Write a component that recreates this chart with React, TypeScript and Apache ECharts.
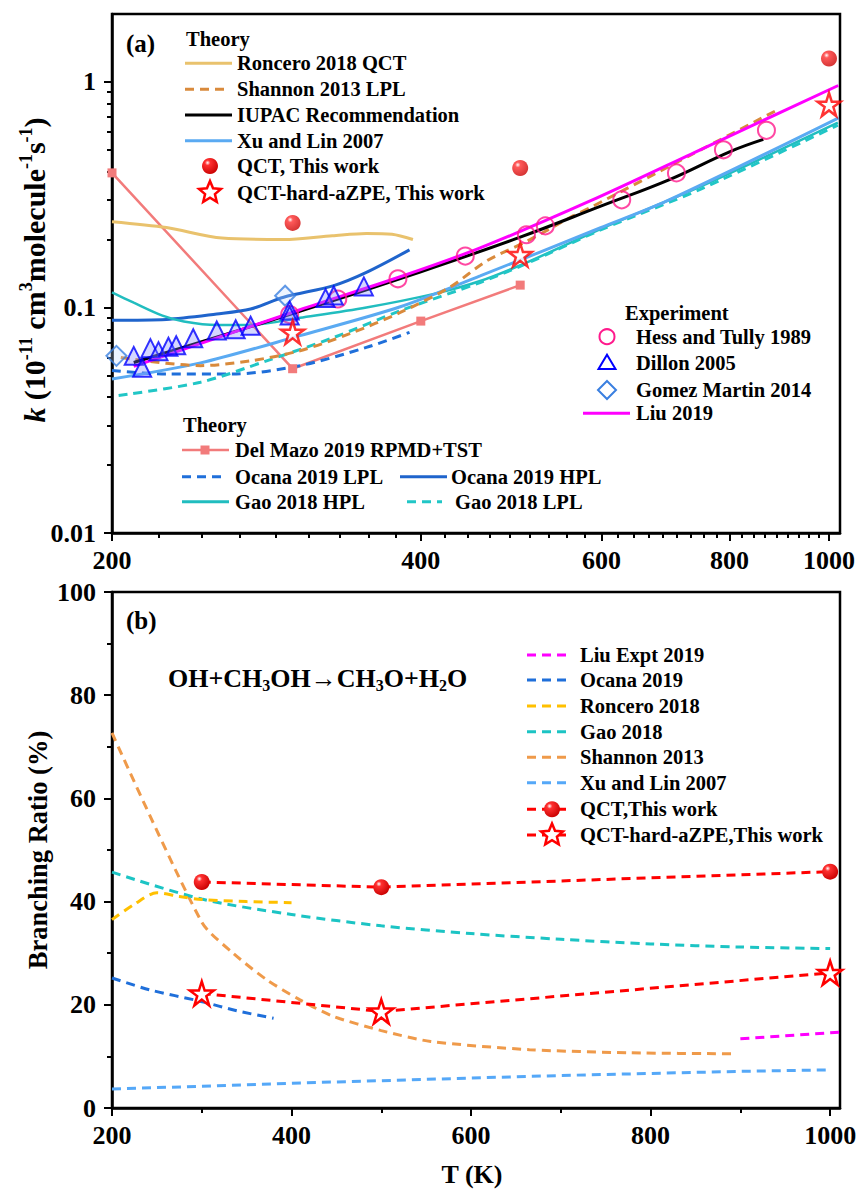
import React, { useEffect, useRef } from "react";
import * as echarts from "echarts";

const FONT = '"Liberation Serif", "Times New Roman", Times, serif';

// ---------------- Panel (a): [T (K), k (10^-11 cm3 molecule-1 s-1)] ----------------
const roncero2018QCT = [[200, 0.24], [226, 0.226], [256, 0.203], [294, 0.2], [328, 0.208], [354, 0.213], [375, 0.211], [393, 0.2]];
const shannon2013LPL = [[204, 0.06], [244, 0.0552], [273, 0.058], [305, 0.0643], [341, 0.0765], [382, 0.095], [427, 0.123], [464, 0.161], [508, 0.197], [563, 0.2545], [585, 0.277], [732, 0.472], [892, 0.754]];
const iupacRecommendation = [[210, 0.057], [300, 0.094], [400, 0.144], [500, 0.205], [600, 0.282], [700, 0.37], [800, 0.49], [863, 0.556]];
const xuLin2007 = [[200, 0.0482], [244, 0.0568], [305, 0.075], [382, 0.1007], [457, 0.138], [598, 0.225], [695, 0.2965], [1022, 0.693]];
const delMazo2019 = [[200, 0.395], [300, 0.0535], [400, 0.087], [500, 0.1256]];
const ocana2019LPL = [[200, 0.0525], [226, 0.0507], [262, 0.0507], [305, 0.0552], [354, 0.0665], [390, 0.0775]];
const ocana2019HPL = [[200, 0.0878], [226, 0.0885], [253, 0.0935], [273, 0.0984], [294, 0.111], [329, 0.125], [354, 0.143], [390, 0.18]];
const gao2018HPL = [[200, 0.1165], [210, 0.105], [224, 0.092], [235, 0.0867], [253, 0.0836], [273, 0.0836], [305, 0.09], [354, 0.1], [411, 0.1146], [457, 0.131], [507, 0.158], [598, 0.222], [749, 0.343], [1020, 0.66]];
const gao2018LPL = [[203, 0.0407], [244, 0.0466], [283, 0.058], [329, 0.0736], [382, 0.0967], [457, 0.129], [508, 0.157], [598, 0.22], [749, 0.334], [1020, 0.643]];
const liu2019 = [[210, 0.0548], [305, 0.0977], [382, 0.1368], [457, 0.1836], [585, 0.2965], [749, 0.5], [1021, 0.964]];
const qctThisWork = [[300, 0.237], [500, 0.415], [1000, 1.27]];
const qctHardAZPE = [[300, 0.0775], [500, 0.171], [1000, 0.794]];
const hessTully1989 = [[298, 0.093], [332, 0.109], [380, 0.134], [442, 0.169], [507, 0.21], [529, 0.23], [628, 0.3], [710, 0.395], [789, 0.5], [869, 0.61]];
const dillon2005 = [[210, 0.061], [214, 0.054], [218, 0.066], [222, 0.064], [227, 0.067], [231, 0.068], [240, 0.073], [253, 0.079], [264, 0.08], [273, 0.083], [298, 0.097], [298, 0.092], [323, 0.11], [329, 0.113], [352, 0.124]];
const gomezMartin2014 = [[202, 0.061], [295, 0.1127]];

const xTicksA = [200, 400, 600, 800, 1000];
const yTicksA = [0.01, 0.1, 1];
const yTickLabelsA = ["0.01", "0.1", "1"];

// ---------------- Panel (b): [T (K), branching ratio (%)] ----------------
const liuExpt2019BR = [[900, 13.4], [1010, 14.7]];
const ocana2019BR = [[200, 25.2], [242, 22.9], [298, 20.7], [340, 18.8], [380, 17.4]];
const roncero2018BR = [[200, 36.5], [225, 39.5], [250, 41.7], [275, 41.0], [300, 40.4], [350, 40.0], [400, 39.8]];
const gao2018BR = [[200, 45.7], [300, 40.5], [400, 37.5], [500, 35.3], [600, 33.8], [700, 32.7], [800, 31.8], [900, 31.2], [1000, 30.9]];
const shannon2013BR = [[200, 72.7], [300, 36.0], [335, 30.0], [372, 24.9], [409, 21.0], [446, 17.8], [500, 15.0], [555, 12.9], [665, 11.3], [777, 10.7], [895, 10.5]];
const xuLin2007BR = [[200, 3.7], [300, 4.2], [400, 4.8], [500, 5.3], [600, 5.8], [700, 6.3], [800, 6.7], [900, 7.1], [1000, 7.4]];
const qctBR = [[300, 43.8], [500, 42.8], [1000, 45.8]];
const qctHardBR = [[300, 22.2], [500, 18.7], [1000, 26.2]];

const xTicksB = [200, 400, 600, 800, 1000];
const xMinorTicksB = [300, 500, 700, 900];
const yTicksB = [0, 20, 40, 60, 80, 100];
const yMinorTicksB = [10, 30, 50, 70, 90];

// ---------------- helpers ----------------
const lg = (d: number[][]) => d.map(([t, k]) => [Math.log10(t), Math.log10(k)]);

const minorXA: number[] = [];
for (let i = 0; i < xTicksA.length - 1; i++) {
  const a = xTicksA[i], b = xTicksA[i + 1];
  for (let j = 1; j < 9; j++) minorXA.push(a + ((b - a) * j) / 9);
}
const minorYA: number[] = [];
for (const dec of [0.01, 0.1]) for (let m = 2; m <= 9; m++) minorYA.push(m * dec);

const STAR = "path://M50,0 L62,36 L100,36 L69,58 L81,95 L50,72 L19,95 L31,58 L0,36 L38,36 Z";
const ballFill = {
  type: "radial", x: 0.35, y: 0.3, r: 0.75,
  colorStops: [
    { offset: 0, color: "#ffffff" },
    { offset: 0.22, color: "#ff3030" },
    { offset: 1, color: "#c80000" },
  ],
};

const C = {
  roncero: "#E9C26D",
  shannon: "#D98A3C",
  iupac: "#000000",
  xu: "#5AAAF2",
  delMazo: "#F27B7B",
  ocanaL: "#1F6FDA",
  ocanaH: "#1F64CC",
  gaoH: "#21BDBF",
  gaoL: "#21C6C6",
  liu: "#FF00FF",
  hess: "#FF1A8C",
  dillon: "#0000FF",
  gomez: "#3A7FE0",
  red: "#FF0000",
  roncB: "#FFC000",
  gaoB: "#1CC4C4",
  shanB: "#EF9A4A",
  xuB: "#55A8F8",
  ocanaB: "#1F6FDA",
};

const DASH = [9, 6];
const LEG = 20.5;

export default function App() {
  const ref = useRef<HTMLDivElement>(null);

  useEffect(() => {
    if (!ref.current) return;
    const chart = echarts.init(ref.current, undefined, { renderer: "svg" });

    const labelStyle = { fontSize: 26, fontWeight: "bold", fontFamily: FONT, color: "#000" };
    const axisLine = { show: true, onZero: false, lineStyle: { color: "#000", width: 2.5 } };
    const noLine = { show: false, onZero: false };
    const tickStyle = { color: "#000", width: 2 };

    const XA_MIN = Math.log10(200), XA_MAX = Math.log10(1025);
    const YA_MIN = Math.log10(0.01), YA_MAX = Math.log10(2);

    const lineA = (name: string, data: number[][], color: string, dashed = false, width = 3, extra: any = {}) => ({
      name, type: "line", xAxisIndex: 0, yAxisIndex: 0, data: lg(data), symbol: "none",
      lineStyle: { color, width, type: dashed ? DASH : "solid" }, z: 2, ...extra,
    });
    const lineB = (name: string, data: number[][], color: string, extra: any = {}) => ({
      name, type: "line", xAxisIndex: 2, yAxisIndex: 2, data, symbol: "none",
      lineStyle: { color, width: 3, type: DASH }, z: 2, ...extra,
    });

    const series: any[] = [
      lineA("Del Mazo 2019 RPMD+TST", delMazo2019, C.delMazo, false, 2.5, {
        symbol: "rect", symbolSize: 9, showSymbol: true, itemStyle: { color: C.delMazo },
      }),
      lineA("Roncero 2018 QCT", roncero2018QCT, C.roncero, false, 3, { smooth: 0.3 }),
      lineA("Ocana 2019 HPL", ocana2019HPL, C.ocanaH, false, 3, { smooth: 0.3 }),
      lineA("Ocana 2019 LPL", ocana2019LPL, C.ocanaL, true, 3, { smooth: 0.3 }),
      lineA("Gao 2018 HPL", gao2018HPL, C.gaoH, false, 2.5, { smooth: 0.3 }),
      lineA("Gao 2018 LPL", gao2018LPL, C.gaoL, true, 3, { smooth: 0.3 }),
      lineA("Xu and Lin 2007", xuLin2007, C.xu, false, 3, { smooth: 0.3 }),
      lineA("Shannon 2013 LPL", shannon2013LPL, C.shannon, true, 3, { smooth: 0.3 }),
      lineA("IUPAC Recommendation", iupacRecommendation, C.iupac, false, 3, { smooth: 0.4 }),
      lineA("Liu 2019", liu2019, C.liu, false, 3, { smooth: 0.3, z: 3 }),
      {
        name: "Gomez Martin 2014", type: "scatter", xAxisIndex: 0, yAxisIndex: 0, data: lg(gomezMartin2014),
        symbol: "diamond", symbolSize: 20, itemStyle: { color: "rgba(190,215,255,0.35)", borderColor: C.gomez, borderWidth: 2 }, z: 4,
      },
      {
        name: "Hess and Tully 1989", type: "scatter", xAxisIndex: 0, yAxisIndex: 0, data: lg(hessTully1989),
        symbol: "circle", symbolSize: 17, itemStyle: { color: "rgba(255,255,255,0)", borderColor: C.hess, borderWidth: 2 }, z: 4,
      },
      {
        name: "Dillon 2005", type: "scatter", xAxisIndex: 0, yAxisIndex: 0, data: lg(dillon2005),
        symbol: "triangle", symbolSize: 18, itemStyle: { color: "rgba(120,130,255,0.4)", borderColor: C.dillon, borderWidth: 2 }, z: 5,
      },
      {
        name: "QCT, This work", type: "scatter", xAxisIndex: 0, yAxisIndex: 0, data: lg(qctThisWork),
        symbol: "circle", symbolSize: 16, itemStyle: { color: ballFill }, z: 6,
      },
      {
        name: "QCT-hard-aZPE, This work", type: "scatter", xAxisIndex: 0, yAxisIndex: 0, data: lg(qctHardAZPE),
        symbol: STAR, symbolSize: 23, itemStyle: { color: "#fff", borderColor: C.red, borderWidth: 2.5 }, z: 6,
      },
      // Panel (b)
      lineB("Xu and Lin 2007", xuLin2007BR, C.xuB),
      lineB("Shannon 2013", shannon2013BR, C.shanB, { smooth: 0.25 }),
      lineB("Gao 2018", gao2018BR, C.gaoB, { smooth: 0.3 }),
      lineB("Roncero 2018", roncero2018BR, C.roncB, { smooth: 0.3 }),
      lineB("Ocana 2019", ocana2019BR, C.ocanaB, { smooth: 0.3 }),
      lineB("Liu Expt 2019", liuExpt2019BR, C.liu),
      lineB("QCT,This work", qctBR, C.red, {
        symbol: "circle", symbolSize: 16, showSymbol: true, itemStyle: { color: ballFill }, z: 5,
      }),
      lineB("QCT-hard-aZPE,This work", qctHardBR, C.red, {
        symbol: STAR, symbolSize: 24, showSymbol: true, itemStyle: { color: "#fff", borderColor: C.red, borderWidth: 2.5 }, z: 5,
      }),
    ];

    // ---------- graphic: legends, titles ----------
    const G: any[] = [];
    const txt = (x: number, y: number, text: string, size = LEG, extra: any = {}) =>
      G.push({
        type: "text", x, y, z: 100, silent: true,
        style: { text, fontSize: size, fontFamily: FONT, fontWeight: "bold", fill: "#000", align: "left", verticalAlign: "middle", ...extra },
      });
    const seg = (x1: number, x2: number, y: number, color: string, dashed = false, width = 3) =>
      G.push({
        type: "line", z: 100, silent: true, shape: { x1, y1: y, x2, y2: y },
        style: { stroke: color, lineWidth: width, lineDash: dashed ? DASH : null },
      });
    const ball = (cx: number, cy: number, r = 8) =>
      G.push({ type: "circle", z: 101, silent: true, shape: { cx, cy, r }, style: { fill: new (echarts.graphic as any).RadialGradient(0.35, 0.3, 0.75, ballFill.colorStops) } });
    const starPts = (cx: number, cy: number, R: number) => {
      const pts: number[][] = [];
      for (let i = 0; i < 10; i++) {
        const rr = i % 2 === 0 ? R : R * 0.45;
        const a = -Math.PI / 2 + (i * Math.PI) / 5;
        pts.push([cx + rr * Math.cos(a), cy + rr * Math.sin(a)]);
      }
      return pts;
    };
    const star = (cx: number, cy: number, R = 11.5) =>
      G.push({ type: "polygon", z: 101, silent: true, shape: { points: starPts(cx, cy, R) }, style: { fill: "#fff", stroke: C.red, lineWidth: 2.5 } });

    // Panel (a) label
    txt(126, 43, "(a)", 25);
    // Theory legend (top-left)
    txt(186, 39, "Theory");
    const rowsA = [63.3, 89.3, 115, 140.7, 166, 192.5];
    seg(185, 232, rowsA[0], C.roncero);
    txt(237, rowsA[0], "Roncero 2018 QCT");
    seg(185, 226, rowsA[1], C.shannon, true);
    txt(237, rowsA[1], "Shannon 2013 LPL");
    seg(185, 232, rowsA[2], C.iupac);
    txt(237, rowsA[2], "IUPAC Recommendation");
    seg(185, 232, rowsA[3], C.xu);
    txt(237, rowsA[3], "Xu and Lin 2007");
    ball(210, rowsA[4]);
    txt(237, rowsA[4], "QCT, This work");
    star(210, rowsA[5]);
    txt(237, rowsA[5], "QCT-hard-aZPE, This work");

    // Experiment legend
    txt(625, 312.7, "Experiment");
    G.push({ type: "circle", z: 101, silent: true, shape: { cx: 607, cy: 336.7, r: 7.5 }, style: { fill: "#fff", stroke: C.hess, lineWidth: 2 } });
    txt(636, 336.7, "Hess and Tully 1989");
    G.push({ type: "polygon", z: 101, silent: true, shape: { points: [[607, 354.7], [615.5, 369], [598.5, 369]] }, style: { fill: "#fff", stroke: C.dillon, lineWidth: 2 } });
    txt(636, 362.7, "Dillon 2005");
    G.push({ type: "polygon", z: 101, silent: true, shape: { points: [[607, 381], [616, 390], [607, 399], [598, 390]] }, style: { fill: "#fff", stroke: C.gomez, lineWidth: 2 } });
    txt(636, 390, "Gomez Martin 2014");
    seg(583, 630, 413.3, C.liu);
    txt(636, 413.3, "Liu 2019");

    // Theory legend (bottom-left)
    txt(183, 425, "Theory");
    seg(182, 229, 450, C.delMazo, false, 2.5);
    G.push({ type: "rect", z: 101, silent: true, shape: { x: 200.5, y: 445.5, width: 9, height: 9 }, style: { fill: C.delMazo } });
    txt(235, 450, "Del Mazo 2019 RPMD+TST");
    seg(182, 224, 476.7, C.ocanaL, true);
    txt(235, 476.7, "Ocana 2019 LPL");
    seg(400, 447, 476.7, C.ocanaH);
    txt(451, 476.7, "Ocana 2019 HPL");
    seg(182, 229, 501.7, C.gaoH);
    txt(235, 501.7, "Gao 2018 HPL");
    seg(407, 442, 501.7, C.gaoL, true);
    txt(455, 501.7, "Gao 2018 LPL");

    // y title panel (a)
    G.push({
      type: "text", x: 34, y: 270, rotation: Math.PI / 2, z: 100, silent: true,
      style: {
        text: "{i|k}{b| (10}{s|-11}{b| cm}{s|3}{b|molecule}{s|-1}{b|s}{s|-1}{b|)}",
        align: "center", verticalAlign: "middle", fill: "#000",
        fontFamily: FONT, fontWeight: "bold", fontSize: 30,
        rich: {
          b: { fontSize: 30, fontFamily: FONT, fontWeight: "bold", lineHeight: 34, fill: "#000" },
          i: { fontSize: 30, fontFamily: FONT, fontWeight: "bold", fontStyle: "italic", lineHeight: 34, fill: "#000" },
          s: { fontSize: 18, fontFamily: FONT, fontWeight: "bold", lineHeight: 18, verticalAlign: "top", fill: "#000" },
        },
      },
    });

    // Panel (b)
    txt(126, 620, "(b)", 25);
    G.push({
      type: "text", x: 168, y: 678, z: 100, silent: true,
      style: {
        text: "{b|OH+CH}{s|3}{b|OH→CH}{s|3}{b|O+H}{s|2}{b|O}",
        align: "left", verticalAlign: "middle", fill: "#000",
        fontFamily: FONT, fontWeight: "bold", fontSize: 26,
        rich: {
          b: { fontSize: 26, fontFamily: FONT, fontWeight: "bold", lineHeight: 30, fill: "#000" },
          s: { fontSize: 16, fontFamily: FONT, fontWeight: "bold", lineHeight: 14, verticalAlign: "bottom", fill: "#000" },
        },
      },
    });
    const rowsB = [655, 680, 706, 731.7, 757.3, 782.7, 809.3, 835];
    const legB: [string, string][] = [
      ["Liu Expt 2019", C.liu],
      ["Ocana 2019", C.ocanaB],
      ["Roncero 2018", C.roncB],
      ["Gao 2018", C.gaoB],
      ["Shannon 2013", C.shanB],
      ["Xu and Lin 2007", C.xuB],
      ["QCT,This work", C.red],
      ["QCT-hard-aZPE,This work", C.red],
    ];
    legB.forEach(([name, color], i) => {
      seg(527, 568, rowsB[i], color, true);
      txt(580, rowsB[i], name);
    });
    ball(552, rowsB[6]);
    star(552, rowsB[7]);

    G.push({
      type: "text", x: 38, y: 850, rotation: Math.PI / 2, z: 100, silent: true,
      style: { text: "Branching Ratio (%)", align: "center", verticalAlign: "middle", fontFamily: FONT, fontWeight: "bold", fontSize: 26.5, fill: "#000" },
    });
    G.push({
      type: "text", x: 472, y: 1174, z: 100, silent: true,
      style: { text: "T (K)", align: "center", verticalAlign: "middle", fontFamily: FONT, fontWeight: "bold", fontSize: 26, fill: "#000" },
    });

    const option: any = {
      animation: false,
      backgroundColor: "#fff",
      grid: [
        { left: 112, top: 14, width: 728, height: 519, show: true, borderColor: "#000", borderWidth: 2.5, backgroundColor: "transparent", outerBoundsMode: "none", containLabel: false },
        { left: 112, top: 592, width: 728, height: 516, show: true, borderColor: "#000", borderWidth: 2.5, backgroundColor: "transparent", outerBoundsMode: "none", containLabel: false },
      ],
      xAxis: [
        {
          gridIndex: 0, type: "value", position: "bottom", min: XA_MIN, max: XA_MAX, axisLine, splitLine: { show: false },
          axisTick: { show: true, length: 8, lineStyle: tickStyle, customValues: xTicksA.map(Math.log10) },
          axisLabel: { ...labelStyle, margin: 14, customValues: xTicksA.map(Math.log10), formatter: (v: number) => String(Math.round(Math.pow(10, v))) },
        },
        {
          gridIndex: 0, type: "value", position: "bottom", min: XA_MIN, max: XA_MAX, axisLine: noLine, splitLine: { show: false },
          axisTick: { show: true, length: 5, lineStyle: tickStyle, customValues: minorXA.map(Math.log10) },
          axisLabel: { show: false },
        },
        {
          gridIndex: 1, type: "value", position: "bottom", min: 200, max: 1011, axisLine, splitLine: { show: false },
          axisTick: { show: true, length: 8, lineStyle: tickStyle, customValues: xTicksB },
          axisLabel: { ...labelStyle, margin: 14, customValues: xTicksB, formatter: (v: number) => String(Math.round(v)) },
        },
        {
          gridIndex: 1, type: "value", position: "bottom", min: 200, max: 1011, axisLine: noLine, splitLine: { show: false },
          axisTick: { show: true, length: 5, lineStyle: tickStyle, customValues: xMinorTicksB },
          axisLabel: { show: false },
        },
      ],
      yAxis: [
        {
          gridIndex: 0, type: "value", position: "left", min: YA_MIN, max: YA_MAX, axisLine, splitLine: { show: false },
          axisTick: { show: true, length: 8, lineStyle: tickStyle, customValues: yTicksA.map(Math.log10) },
          axisLabel: {
            ...labelStyle, margin: 16, customValues: yTicksA.map(Math.log10),
            formatter: (v: number) => yTickLabelsA[Math.round(v) + 2] ?? "",
          },
        },
        {
          gridIndex: 0, type: "value", position: "left", min: YA_MIN, max: YA_MAX, axisLine: noLine, splitLine: { show: false },
          axisTick: { show: true, length: 5, lineStyle: tickStyle, customValues: minorYA.map(Math.log10) },
          axisLabel: { show: false },
        },
        {
          gridIndex: 1, type: "value", position: "left", min: 0, max: 100, axisLine, splitLine: { show: false },
          axisTick: { show: true, length: 8, lineStyle: tickStyle, customValues: yTicksB },
          axisLabel: { ...labelStyle, margin: 16, customValues: yTicksB, formatter: (v: number) => String(Math.round(v)) },
        },
        {
          gridIndex: 1, type: "value", position: "left", min: 0, max: 100, axisLine: noLine, splitLine: { show: false },
          axisTick: { show: true, length: 5, lineStyle: tickStyle, customValues: yMinorTicksB },
          axisLabel: { show: false },
        },
      ],
      series,
      graphic: G,
    };

    chart.setOption(option);
    return () => chart.dispose();
  }, []);

  return <div ref={ref} style={{ position: "fixed", left: 0, top: 0, width: 860, height: 1194, background: "#fff" }} />;
}
